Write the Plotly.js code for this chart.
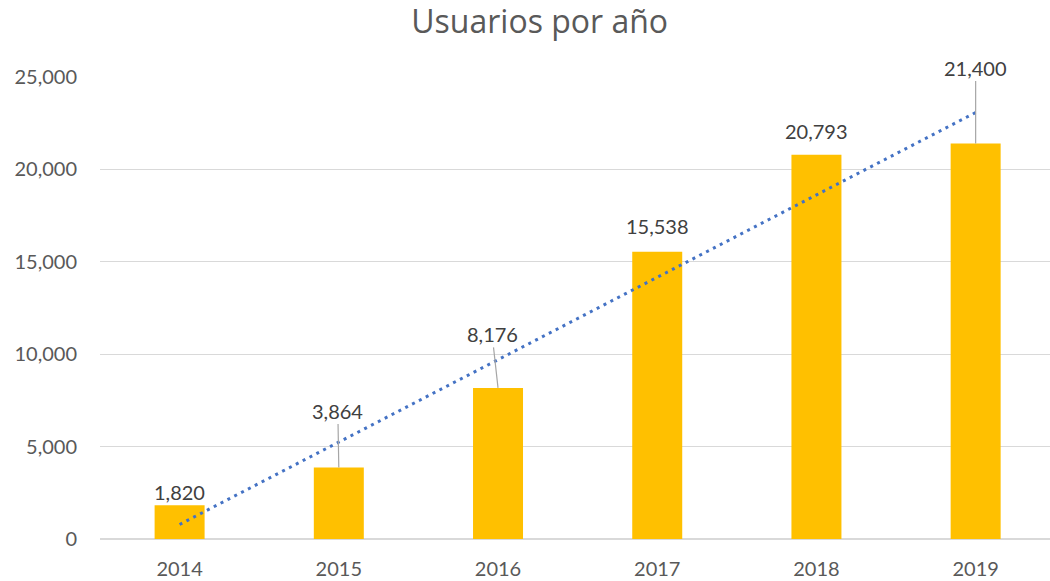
<!DOCTYPE html>
<html>
<head>
<meta charset="utf-8">
<script src="https://cdn.plot.ly/plotly-3.0.1.min.js"></script>
<style>html,body{margin:0;padding:0;overflow:hidden;background:#fff}</style>
</head>
<body>
<div id="chart" style="width:1050px;height:581px"></div>
<script>
// Data
const years = ["2014", "2015", "2016", "2017", "2018", "2019"];
const users = [1820, 3864, 8176, 15538, 20793, 21400];
const yTickVals = [0, 5000, 10000, 15000, 20000, 25000];
const yTickText = ["0", "5,000", "10,000", "15,000", "20,000", "25,000"];

// label placement (pixel offsets from bar top) and whether a leader line is drawn
const labelDx = [0, -1, -6, 0, 0, 0];
const labelDy = [-13, -57, -54, -26, -24, -76];
const leader = [false, true, true, false, false, true];

// linear trendline (least squares) from the data
const n = users.length;
const xs = users.map((_, i) => i);
const mx = xs.reduce((a, b) => a + b, 0) / n;
const my = users.reduce((a, b) => a + b, 0) / n;
let sxy = 0, sxx = 0;
xs.forEach((x, i) => { sxy += (x - mx) * (users[i] - my); sxx += (x - mx) * (x - mx); });
const slope = sxy / sxx, intercept = my - slope * mx;
const trend = xs.map(x => intercept + slope * x);

const fmt = v => v.toLocaleString("en-US");
const FONT = "Lato, 'Open Sans', sans-serif";

const traces = [
  {
    type: "bar", x: years, y: users, width: 0.314,
    marker: {color: "#FFC000"}, hoverinfo: "x+y", showlegend: false
  },
  {
    type: "scatter", mode: "lines", x: years, y: trend,
    line: {color: "#4472C4", width: 3, dash: "3px,4.7px"}, showlegend: false, hoverinfo: "skip"
  }
];

// category axes place annotations by category index
const annotations = years.map((yr, i) => ({
  x: i, y: users[i], xref: "x", yref: "y",
  text: fmt(users[i]),
  showarrow: true,
  arrowhead: 0, arrowwidth: 1.2,
  arrowcolor: leader[i] ? "#A6A6A6" : "rgba(0,0,0,0)",
  ax: labelDx[i], ay: labelDy[i], standoff: 0,
  font: {family: FONT, size: 20, color: "#404040"}
}));

const layout = {
  width: 1050, height: 581,
  margin: {l: 100, r: 0, t: 77, b: 41.5},
  paper_bgcolor: "#ffffff", plot_bgcolor: "#ffffff",
  title: {
    text: "Usuarios por año", x: 0.514, xref: "container", xanchor: "center",
    y: 0.962, yref: "container", yanchor: "middle",
    font: {family: "'Open Sans', sans-serif", size: 32, color: "#595959"}
  },
  xaxis: {
    type: "category", range: [-0.5, 5.467], showgrid: false, zeroline: false,
    showline: false, ticks: "", ticklabelstandoff: 16,
    tickfont: {family: FONT, size: 20, color: "#595959"},
    fixedrange: true
  },
  yaxis: {
    range: [0, 25000], tickvals: yTickVals, ticktext: yTickText,
    showgrid: true, gridcolor: "#D9D9D9", gridwidth: 1.3,
    zeroline: true, zerolinecolor: "#D9D9D9", zerolinewidth: 1.3,
    showline: false, ticks: "", ticklabelstandoff: 22,
    tickfont: {family: FONT, size: 20, color: "#595959"}, fixedrange: true
  },
  bargap: 0.6,
  annotations: annotations
};

Plotly.newPlot("chart", traces, layout, {displayModeBar: false, staticPlot: true});
</script>
</body>
</html>
